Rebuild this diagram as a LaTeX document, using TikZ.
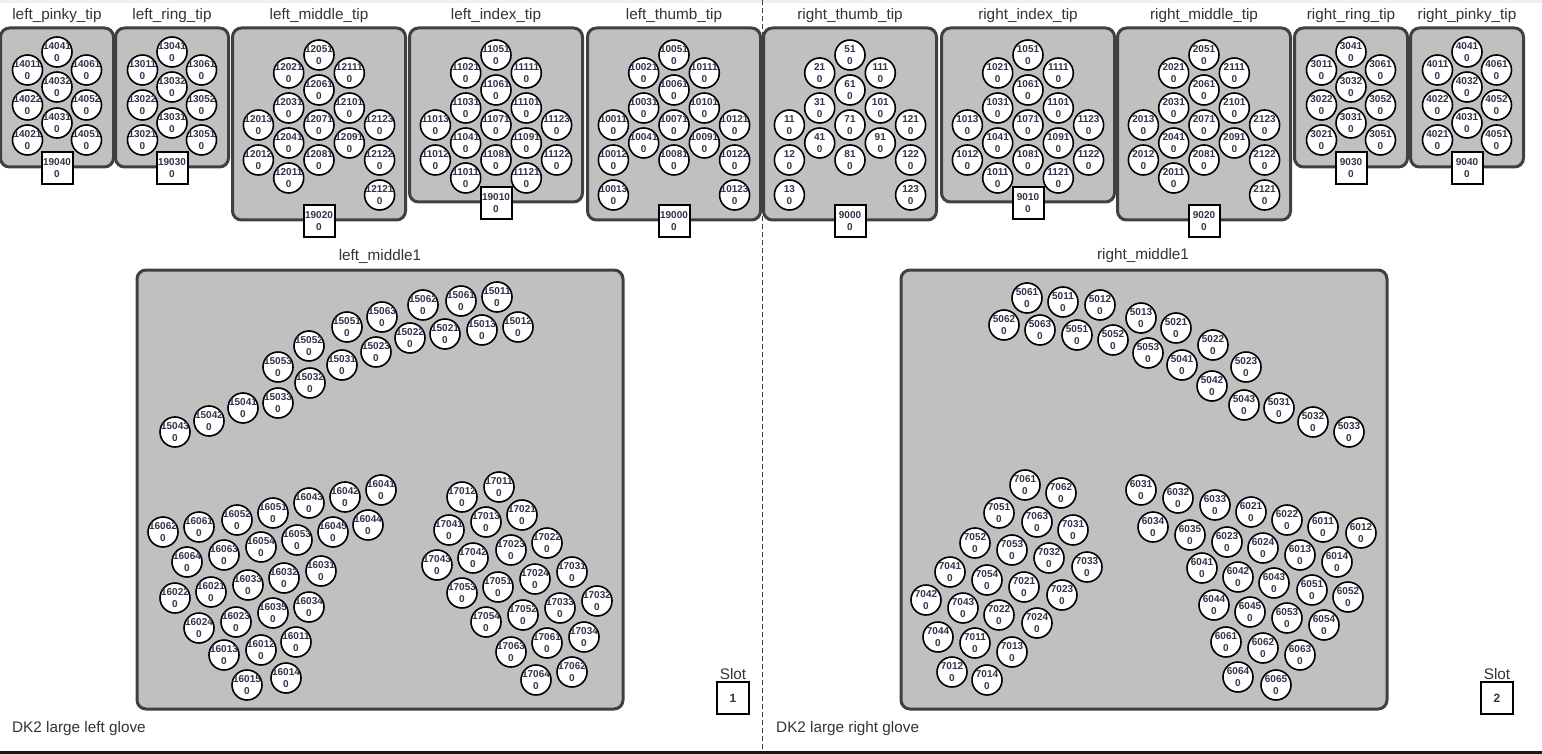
\documentclass[tikz,border=0pt]{standalone}
\usepackage{fontspec}
\setmainfont{Liberation Sans}
\definecolor{panelgray}{RGB}{192,192,192}
\definecolor{paneledge}{RGB}{64,64,64}
\definecolor{titlegray}{RGB}{51,51,51}
\definecolor{keytext}{RGB}{50,50,75}
\tikzset{
  panel/.style={draw=paneledge, fill=panelgray, line width=3pt, rounded corners=9pt},
  sensor/.style={circle, draw=black, fill=white, line width=1.6pt, minimum size=30pt,
    inner sep=-5pt, align=center, text=keytext, font=\fontsize{10}{12.5}\selectfont\bfseries},
  chan/.style={rectangle, draw=black, fill=white, line width=2pt, minimum width=31pt,
    minimum height=32pt, inner sep=-5pt, align=center, text=keytext,
    font=\fontsize{10}{12.5}\selectfont\bfseries},
  slotbox/.style={rectangle, draw=black, fill=white, line width=2pt, minimum size=32pt,
    text=titlegray, font=\fontsize{12}{14}\selectfont\bfseries},
  ttl/.style={inner sep=0pt, text=titlegray, font=\fontsize{15.3}{18}\selectfont},
}
% tip grids: suffix / dx from centre / dy from panel top
\def\gridS{41/0/24, 11/-29.5/42, 61/29.5/42, 32/0/59, 22/-29.5/77, 52/29.5/77,
  31/0/95, 21/-29.5/112, 51/29.5/112}
\def\gridT{51/0/27, 21/-30.3/45, 111/30.3/45, 61/0/62, 31/-30.3/80, 101/30.3/80,
  11/-60.6/97, 71/0/97, 121/60.6/97, 41/-30.3/115, 91/30.3/115,
  12/-60.6/132, 81/0/132, 122/60.6/132, 13/-60.6/167, 123/60.6/167}
\def\gridI{51/0/27, 21/-30.3/45, 111/30.3/45, 61/0/62, 31/-30.3/80, 101/30.3/80,
  13/-60.6/97, 71/0/97, 123/60.6/97, 41/-30.3/115, 91/30.3/115,
  12/-60.6/132, 81/0/132, 122/60.6/132, 11/-30.3/150, 121/30.3/150}
\def\gridM{51/0/27, 21/-30.3/45, 111/30.3/45, 61/0/62, 31/-30.3/80, 101/30.3/80,
  13/-60.6/97, 71/0/97, 123/60.6/97, 41/-30.3/115, 91/30.3/115,
  12/-60.6/132, 81/0/132, 122/60.6/132, 11/-30.3/150, 121/60.6/167}
\begin{document}
\begin{tikzpicture}[x=1pt,y=-1pt]
  \useasboundingbox (0,0) rectangle (1542,754);
  \fill[gray!12] (0,0) rectangle (1542,3);
  \fill[black!90] (0,751) rectangle (1542,754);
  \draw[paneledge, line width=1pt, dash pattern=on 5pt off 3pt] (762,0) -- (762,751);

  % finger tips
  \foreach \nm/\cx/\hw/\bot/\base/\grd/\chid in {
    left\_pinky\_tip/57/56.5/167/14000/\gridS/19040,
    left\_ring\_tip/172/56.5/167/13000/\gridS/19030,
    left\_middle\_tip/319/86.5/220/12000/\gridM/19020,
    left\_index\_tip/496/86.5/202/11000/\gridI/19010,
    left\_thumb\_tip/674/86.5/220/10000/\gridT/19000,
    right\_thumb\_tip/850/86.5/220/0/\gridT/9000,
    right\_index\_tip/1028/86.5/202/1000/\gridI/9010,
    right\_middle\_tip/1204/86.5/220/2000/\gridM/9020,
    right\_ring\_tip/1351/56.5/167/3000/\gridS/9030,
    right\_pinky\_tip/1467/56.5/167/4000/\gridS/9040}
  {
    \draw[panel] (\cx-\hw,28) rectangle (\cx+\hw,\bot);
    \node[ttl] (t\chid) at (\cx,15.5) {\nm};
    \edef\cells{\grd}
    \foreach \s/\dx/\dy in \cells {
      \pgfmathtruncatemacro\sid{\base+\s}
      \node[sensor] (s\sid) at (\cx+\dx,28+\dy) {\sid\\0};
    }
    \node[chan] (b\chid) at (\cx,\bot+1) {\chid\\0};
  }

  % middle segments
  \draw[panel] (137,270) rectangle (623,709);
  \draw[panel] (901,270) rectangle (1387,709);
  \node[ttl] (lm1) at (380,256) {left\_middle1};
  \node[ttl] (rm1) at (1143,256) {right\_middle1};
  \foreach \s/\x/\y in {
    15043/175/432, 15042/209/421, 15041/243/408, 15033/278/403, 15053/278/367,
    15032/310/383, 15052/309/346, 15031/342/365, 15051/347/327, 15023/376/352,
    15063/382/317, 15022/410/338, 15062/423/305, 15021/445/334, 15061/461/301,
    15013/482/330, 15011/497/297, 15012/518/327,
    16062/163/532, 16061/199/527, 16052/237/520, 16051/273/513, 16043/309/503,
    16042/345/497, 16041/381/490, 16064/187/562, 16063/224/555, 16054/261/547,
    16053/297/540, 16045/333/532, 16044/368/525, 16031/321/571, 16032/284/578,
    16033/248/585, 16021/211/592, 16022/175/598, 16034/309/607, 16035/273/613,
    16023/236/622, 16024/199/628, 16011/296/642, 16012/261/650, 16013/224/655,
    16014/286/678, 16015/247/685,
    17011/499/487, 17012/462/497, 17021/522/515, 17013/486/522, 17041/449/530,
    17022/547/543, 17023/511/550, 17042/473/558, 17043/437/565, 17031/572/572,
    17024/535/579, 17051/498/587, 17053/462/593, 17032/597/601, 17033/560/608,
    17052/523/615, 17054/486/622, 17034/584/637, 17061/547/643, 17063/511/652,
    17062/572/672, 17064/536/680,
    5061/1027/298, 5011/1063/302, 5012/1100/305, 5062/1004/325, 5063/1040/330,
    5051/1077/335, 5052/1113/340, 5013/1141/318, 5021/1176/328, 5053/1148/353,
    5041/1182/365, 5022/1213/345, 5042/1212/386, 5023/1246/367, 5043/1244/405,
    5031/1279/408, 5032/1313/422, 5033/1349/432,
    7061/1025/485, 7062/1061/493, 7051/999/513, 7063/1037/522, 7031/1073/530,
    7052/975/543, 7053/1012/550, 7032/1049/558, 7033/1087/567, 7041/950/572,
    7054/987/580, 7021/1024/587, 7023/1062/595, 7042/926/600, 7043/963/608,
    7022/999/615, 7024/1037/623, 7044/938/637, 7011/975/643, 7013/1012/652,
    7012/952/672, 7014/987/680,
    6031/1141/490, 6032/1178/498, 6033/1215/505, 6021/1251/512, 6022/1287/520,
    6011/1323/527, 6012/1361/533, 6034/1153/527, 6035/1190/535, 6023/1227/542,
    6024/1263/548, 6013/1300/555, 6014/1337/562, 6041/1202/568, 6042/1238/577,
    6043/1274/583, 6051/1312/590, 6052/1348/597, 6044/1214/605, 6045/1250/612,
    6053/1287/618, 6054/1324/625, 6061/1226/642, 6062/1263/648, 6063/1300/655,
    6064/1238/677, 6065/1276/685}
    \node[sensor] (s\s) at (\x,\y) {\s\\0};

  % slots and gloves
  \node[ttl] (slot1) at (733,674.5) {Slot};
  \node[slotbox] (n1) at (733,698) {1};
  \node[ttl] (slot2) at (1497,674.5) {Slot};
  \node[slotbox] (n2) at (1497,698) {2};
  \node[ttl, anchor=west] (glove1) at (12,728.5) {DK2 large left glove};
  \node[ttl, anchor=west] (glove2) at (776,728.5) {DK2 large right glove};
\end{tikzpicture}
\end{document}
